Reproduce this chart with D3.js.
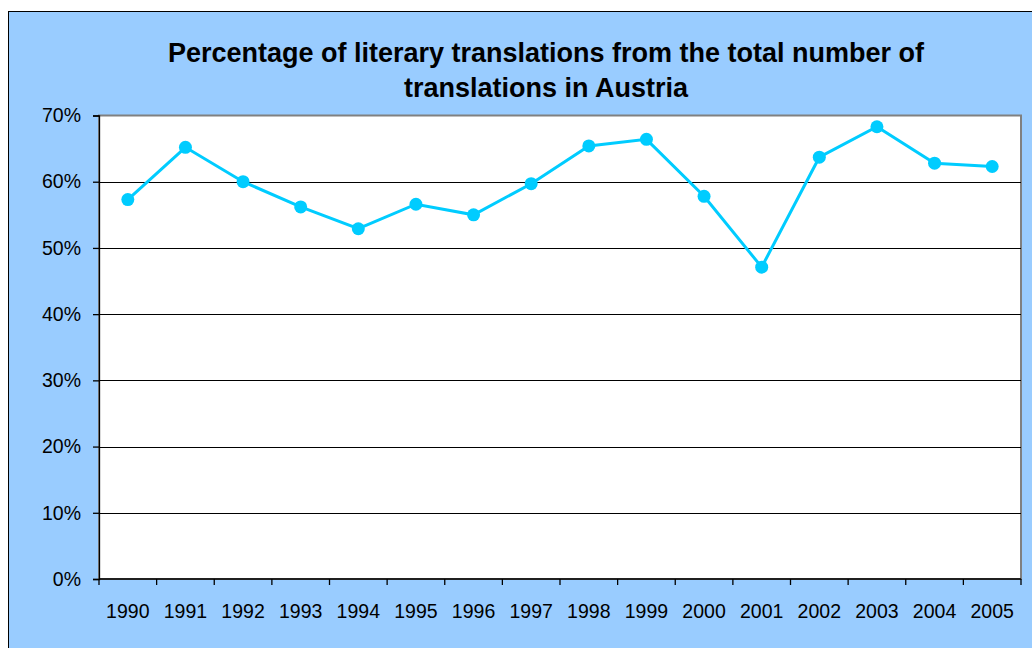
<!DOCTYPE html>
<html>
<head>
<meta charset="utf-8">
<script src="https://cdn.jsdelivr.net/npm/d3@7"></script>
<style>
  body { margin: 0; background: #fff; }
  svg { display: block; font-family: "Liberation Sans", Arial, sans-serif; }
</style>
</head>
<body>
<div id="chart"></div>
<script>
const years = ['1990','1991','1992','1993','1994','1995','1996','1997','1998','1999','2000','2001','2002','2003','2004','2005'];
const shares = [57.3, 65.2, 60.0, 56.2, 52.9, 56.6, 55.0, 59.7, 65.4, 66.4, 57.8, 47.1, 63.7, 68.3, 62.8, 62.3];
const yTicks = [0, 10, 20, 30, 40, 50, 60, 70];
const titleLines = ['Percentage of literary translations from the total number of', 'translations in Austria'];

const width = 1032, height = 648;
const plot = { left: 99, right: 1021, top: 115.5, bottom: 579 };

const svg = d3.select('#chart')
  .append('svg')
    .attr('width', width)
    .attr('height', height);

// outer chart area
svg.append('rect')
  .attr('x', 8.5).attr('y', 11.5)
  .attr('width', width + 10).attr('height', height + 10)
  .attr('fill', '#99ccff')
  .attr('stroke', '#000')
  .attr('stroke-width', 1);

// plot area
svg.append('rect')
  .attr('x', plot.left).attr('y', plot.top)
  .attr('width', plot.right - plot.left).attr('height', plot.bottom - plot.top)
  .attr('fill', '#fff')
  .attr('stroke', '#808080')
  .attr('stroke-width', 2);

const x = d3.scaleBand().domain(years).range([plot.left, plot.right]);
const y = d3.scaleLinear().domain([0, 70]).range([plot.bottom, plot.top]);

// gridlines
svg.append('g')
  .selectAll('line')
  .data(yTicks.filter(d => d > 0 && d < 70))
  .enter().append('line')
    .attr('x1', plot.left).attr('x2', plot.right)
    .attr('y1', d => Math.round(y(d)) + 0.5)
    .attr('y2', d => Math.round(y(d)) + 0.5)
    .attr('stroke', '#000')
    .attr('stroke-width', 1);

// y axis
const yAxis = d3.axisLeft(y)
  .tickValues(yTicks)
  .tickFormat(d => d + '%')
  .tickSize(6)
  .tickPadding(12);

svg.append('g')
  .attr('transform', `translate(${plot.left}, 0)`)
  .call(yAxis)
  .call(g => g.selectAll('path, line').attr('stroke', '#000').attr('stroke-width', 1.3))
  .call(g => g.selectAll('text').attr('font-size', 19.5).attr('fill', '#000')
    .attr('font-family', '"Liberation Sans", Arial, sans-serif'));

// x axis, ticks at category boundaries
const xAxisG = svg.append('g')
  .attr('transform', `translate(0, ${plot.bottom})`);

xAxisG.append('line')
  .attr('x1', plot.left).attr('x2', plot.right)
  .attr('stroke', '#000').attr('stroke-width', 1.3);

xAxisG.selectAll('.tick')
  .data(years.concat(['end']))
  .enter().append('line')
    .attr('x1', (d, i) => i < years.length ? x(d) : plot.right)
    .attr('x2', (d, i) => i < years.length ? x(d) : plot.right)
    .attr('y1', 0).attr('y2', 6)
    .attr('stroke', '#000').attr('stroke-width', 1.3);

xAxisG.selectAll('text')
  .data(years)
  .enter().append('text')
    .attr('x', d => x(d) + x.bandwidth() / 2)
    .attr('y', 38.5)
    .attr('text-anchor', 'middle')
    .attr('font-size', 19.5)
    .text(d => d);

// series
const line = d3.line()
  .x((d, i) => x(years[i]) + x.bandwidth() / 2)
  .y(d => y(d));

svg.append('path')
  .datum(shares)
  .attr('fill', 'none')
  .attr('stroke', '#00ccff')
  .attr('stroke-width', 3)
  .attr('d', line);

svg.selectAll('circle')
  .data(shares)
  .enter().append('circle')
    .attr('cx', (d, i) => x(years[i]) + x.bandwidth() / 2)
    .attr('cy', d => y(d))
    .attr('r', 6.5)
    .attr('fill', '#00ccff');

// title
svg.append('text')
  .attr('x', 546)
  .attr('y', 62)
  .attr('text-anchor', 'middle')
  .attr('font-size', 27)
  .attr('font-weight', 'bold')
  .selectAll('tspan')
  .data(titleLines)
  .enter().append('tspan')
    .attr('x', 546)
    .attr('dy', (d, i) => i === 0 ? 0 : 35)
    .text(d => d);
</script>
</body>
</html>
